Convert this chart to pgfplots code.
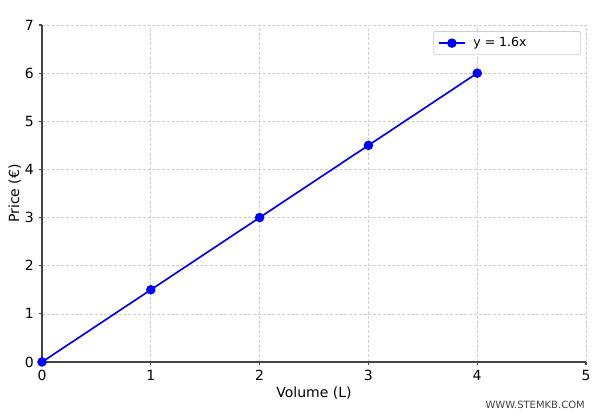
\documentclass[border=0pt]{standalone}
\usepackage{pgfplots}
\pgfplotsset{compat=1.18}
\usepackage{fontspec}
\setmainfont{DejaVu Sans}

\definecolor{axisgray}{HTML}{444444}
\definecolor{gridgray}{HTML}{CFCFCF}

\begin{document}
\begin{tikzpicture}
\begin{axis}[
    scale only axis,
    width=408pt, height=252.75pt,
    xmin=0, xmax=5, ymin=0, ymax=7,
    xtick={0,1,2,3,4,5}, ytick={0,1,2,3,4,5,6,7},
    axis x line=bottom, axis y line=left,
    axis line style={-, draw=axisgray, line width=1.1pt},
    tick style={draw=axisgray, line width=0.8pt},
    tick align=outside, major tick length=2.6pt,
    grid=major,
    major grid style={dash pattern=on 2.2pt off 1.4pt, draw=gridgray, line width=0.5pt},
    tick label style={font=\fontsize{10.5}{12}\selectfont},
    /pgf/number format/assume math mode=true,
    label style={font=\fontsize{10.5}{12}\selectfont},
    xlabel={Volume (L)}, ylabel={Price (€)},
    xlabel style={yshift=2pt},
    ylabel style={yshift=-4pt},
    legend style={at={(rel axis cs:0.991,0.982)}, anchor=north east,
        draw=gridgray, rounded corners=1.5pt, line width=0.6pt,
        font=\fontsize{9.4}{11}\selectfont, inner xsep=3pt, inner ysep=2.5pt},
    legend cell align=left,
    legend image code/.code={
        \draw[mark repeat=2, mark phase=2, #1] plot coordinates {(0pt,0pt) (10pt,0pt) (20pt,0pt)};
    },
]
\addplot[color=blue, line width=1.25pt, mark=*, mark size=2.9pt, mark options={fill=blue, draw=blue}]
  coordinates {(0,0) (1,1.5) (2,3) (3,4.5) (4,6)};
\addlegendentry{\makebox[79pt][l]{\hspace{3.5pt}y = 1.6x}}
\end{axis}
\node[anchor=south east, text=axisgray, font=\fontsize{7.5}{9}\selectfont, inner sep=0pt] at (407.25pt,-35pt) {WWW.STEMKB.COM};
\pgfresetboundingbox
\path (-31.5pt,-40.5pt) rectangle (418.5pt,271.5pt);
\end{tikzpicture}
\end{document}
